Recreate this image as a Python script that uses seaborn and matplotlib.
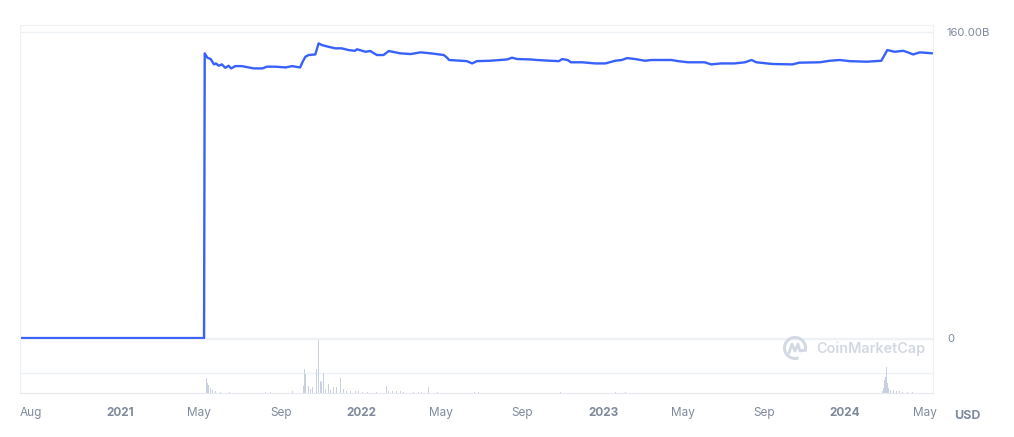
import matplotlib
matplotlib.use("Agg")
import matplotlib.pyplot as plt
import matplotlib.patches as mpatches
from matplotlib.lines import Line2D
import pandas as pd
import seaborn as sns

# market cap, billions USD
cap_dates = [
    "2020-08-03", "2021-05-08", "2021-05-09", "2021-05-13", "2021-05-18", "2021-05-23",
    "2021-05-26", "2021-05-30", "2021-06-04", "2021-06-09", "2021-06-14", "2021-06-18",
    "2021-06-24", "2021-07-04", "2021-07-22", "2021-08-04", "2021-08-11", "2021-08-24",
    "2021-09-08", "2021-09-18", "2021-09-30", "2021-10-04", "2021-10-08", "2021-10-13",
    "2021-10-23", "2021-10-28", "2021-11-02", "2021-11-12", "2021-11-22", "2021-12-02",
    "2021-12-12", "2021-12-22", "2021-12-25", "2022-01-07", "2022-01-14", "2022-01-24",
    "2022-02-03", "2022-02-11", "2022-02-28", "2022-03-16", "2022-03-31", "2022-04-15",
    "2022-05-05", "2022-05-10", "2022-05-13", "2022-06-09", "2022-06-17", "2022-06-24",
    "2022-07-14", "2022-08-09", "2022-08-16", "2022-08-24", "2022-09-13", "2022-09-23",
    "2022-10-13", "2022-10-26", "2022-10-31", "2022-11-08", "2022-11-13", "2022-11-30",
    "2022-12-20", "2023-01-04", "2023-01-19", "2023-01-29", "2023-02-06", "2023-02-18",
    "2023-03-05", "2023-03-15", "2023-04-14", "2023-04-24", "2023-05-09", "2023-06-03",
    "2023-06-13", "2023-06-28", "2023-07-18", "2023-08-03", "2023-08-13", "2023-08-20",
    "2023-09-14", "2023-10-14", "2023-10-24", "2023-11-24", "2023-12-09", "2023-12-24",
    "2024-01-08", "2024-02-03", "2024-02-25", "2024-03-05", "2024-03-16", "2024-03-29",
    "2024-04-05", "2024-04-13", "2024-04-23", "2024-05-12",
]
cap_values = [
    0, 0, 148.9, 146.6, 145.9, 143.1,
    143.6, 142.4, 143.1, 141.3, 142.4, 141.0,
    142.2, 142.2, 141.0, 141.0, 141.9, 141.9,
    141.5, 142.2, 141.5, 144.5, 147.1, 148.0,
    148.3, 154.1, 153.2, 152.3, 151.5, 151.5,
    150.6, 150.2, 151.0, 149.7, 150.1, 148.0,
    148.0, 150.1, 148.9, 148.5, 149.4, 148.9,
    148.0, 146.6, 145.4, 144.8, 143.6, 144.8,
    145.0, 145.7, 146.6, 145.9, 145.7, 145.4,
    145.0, 144.8, 145.9, 145.4, 144.2, 144.2,
    143.6, 143.6, 145.0, 145.4, 146.4, 145.9,
    145.0, 145.4, 145.4, 144.8, 144.2, 144.2,
    143.1, 143.6, 143.6, 144.2, 145.4, 144.2,
    143.3, 143.1, 144.0, 144.2, 145.0, 145.4,
    144.8, 144.5, 145.0, 150.6, 149.7, 150.2,
    149.4, 148.3, 149.4, 148.9,
]

# trading volume, billions USD
vol_dates = [
    "2021-05-12", "2021-05-13", "2021-05-15", "2021-05-18", "2021-05-21", "2021-05-25",
    "2021-06-02", "2021-06-15", "2021-08-09", "2021-08-16", "2021-09-18", "2021-10-05",
    "2021-10-07", "2021-10-08", "2021-10-13", "2021-10-16", "2021-10-19", "2021-10-25",
    "2021-10-28", "2021-10-31", "2021-11-01", "2021-11-04", "2021-11-07", "2021-11-12",
    "2021-11-15", "2021-11-19", "2021-11-24", "2021-11-30", "2021-12-04", "2021-12-09",
    "2021-12-15", "2021-12-23", "2021-12-27", "2022-01-02", "2022-01-10", "2022-01-23",
    "2022-02-08", "2022-02-11", "2022-02-17", "2022-02-23", "2022-03-01", "2022-03-05",
    "2022-03-20", "2022-03-28", "2022-04-01", "2022-04-12", "2022-04-25", "2022-05-10",
    "2022-06-21", "2022-06-26", "2022-08-13", "2022-10-29", "2023-01-19", "2023-02-04",
    "2024-02-27", "2024-02-28", "2024-03-01", "2024-03-02", "2024-03-04", "2024-03-05",
    "2024-03-07", "2024-03-10", "2024-03-14", "2024-03-19", "2024-03-23", "2024-03-28",
    "2024-04-04", "2024-04-12",
]
vol_values = [
    1.5, 1.0, 0.8, 0.5, 0.3, 0.2,
    0.1, 0.1, 0.1, 0.1, 0.2, 0.7,
    2.4, 1.9, 0.7, 0.4, 0.6, 2.4,
    5.3, 1.2, 1.1, 2.0, 0.4, 0.9,
    0.3, 0.6, 0.6, 1.5, 0.4, 0.2,
    0.2, 0.2, 0.2, 0.1, 0.1, 0.1,
    0.7, 0.2, 0.2, 0.2, 0.2, 0.1,
    0.1, 0.1, 0.1, 0.6, 0.1, 0.2,
    0.1, 0.1, 0.5, 0.1, 0.1, 0.1,
    0.2, 0.5, 1.3, 1.6, 2.6, 1.0,
    0.5, 0.3, 0.3, 0.2, 0.2, 0.1,
    0.1, 0.1,
]

tick_dates = ["2020-08-03", "2021-01-01", "2021-05-01", "2021-09-01", "2022-01-01",
              "2022-05-01", "2022-09-01", "2023-01-01", "2023-05-01", "2023-09-01",
              "2024-01-01", "2024-05-01"]
tick_labels = ["Aug", "2021", "May", "Sep", "2022", "May", "Sep", "2023", "May", "Sep",
               "2024", "May"]

LINE = "#3861fb"
BAR = "#c9d0df"
GRID = "#eff2f5"
TEXT = "#808a9d"
MARK = "#d3d9e3"

sns.set_style("white")
plt.rcParams["font.family"] = ["Inter", "DejaVu Sans"]

cap = pd.DataFrame({"date": pd.to_datetime(cap_dates), "cap": cap_values})
vol = pd.DataFrame({"date": pd.to_datetime(vol_dates), "vol": vol_values})

fig = plt.figure(figsize=(10.14, 4.37), dpi=100)
W, H = 1014, 437
ax = fig.add_axes([20 / W, 1 - 339 / H, 913 / W, 314 / H])
axv = fig.add_axes([20 / W, 1 - 393 / H, 913 / W, 54 / H], sharex=ax)

sns.lineplot(data=cap, x="date", y="cap", color=LINE, linewidth=1.7, ax=ax)
ax.set_ylim(-0.5, 163.7)
ax.set_xlim(pd.Timestamp("2020-08-03"), pd.Timestamp("2024-05-13"))
ax.set_yticks([0, 160])
ax.yaxis.tick_right()
ax.set_yticklabels(["0", "160.00B"])
ax.tick_params(axis="y", length=0, pad=10, labelsize=8.2, labelcolor=TEXT)
ax.tick_params(axis="x", bottom=False, labelbottom=False)
ax.grid(axis="y", color=GRID, linewidth=1)
ax.set_xlabel("")
ax.set_ylabel("")
for s in ax.spines.values():
    s.set_color(GRID)
ax.spines["bottom"].set_visible(False)

axv.bar(vol["date"], vol["vol"], width=1.3, color=BAR, linewidth=0)
axv.set_ylim(0, 5.4)
axv.set_yticks([2.0, 5.4])
axv.grid(axis="y", color=GRID, linewidth=1)
axv.tick_params(axis="y", left=False, right=False, labelleft=False)
for s in axv.spines.values():
    s.set_color(GRID)
axv.spines["bottom"].set_color("#e6e9ee")
axv.set_xticks(pd.to_datetime(tick_dates))
axv.set_xticklabels(tick_labels)
axv.tick_params(axis="x", length=4, color="#e6e9ee", labelsize=8.5, labelcolor=TEXT, pad=6)
for i, lab in enumerate(axv.get_xticklabels()):
    if tick_labels[i].isdigit():
        lab.set_fontweight("bold")
axv.get_xticklabels()[0].set_horizontalalignment("left")
axv.set_xlabel("")
axv.set_ylabel("")

# watermark
fig.text(925 / W, 1 - 349 / H, "CoinMarketCap", ha="right", va="center",
         fontsize=10.4, fontweight="semibold", color=MARK)
tr = fig.dpi_scale_trans
cx, cy = 7.95, 0.89
fig.add_artist(mpatches.Arc((cx, cy), 0.21, 0.21, theta1=-20, theta2=290,
                            transform=tr, edgecolor=MARK, linewidth=2.2))
fig.add_artist(Line2D([cx - 0.06, cx - 0.03, cx, cx + 0.03, cx + 0.05, cx + 0.1],
                      [cy - 0.05, cy + 0.04, cy - 0.03, cy + 0.04, cy - 0.03, cy - 0.02],
                      transform=tr, color=MARK, linewidth=2.0, solid_joinstyle="round"))

fig.text(967 / W, 1 - 416 / H, "USD", ha="center", va="center", fontsize=9,
         fontweight="bold", color=TEXT)

fig.savefig("out.png", dpi=100)
